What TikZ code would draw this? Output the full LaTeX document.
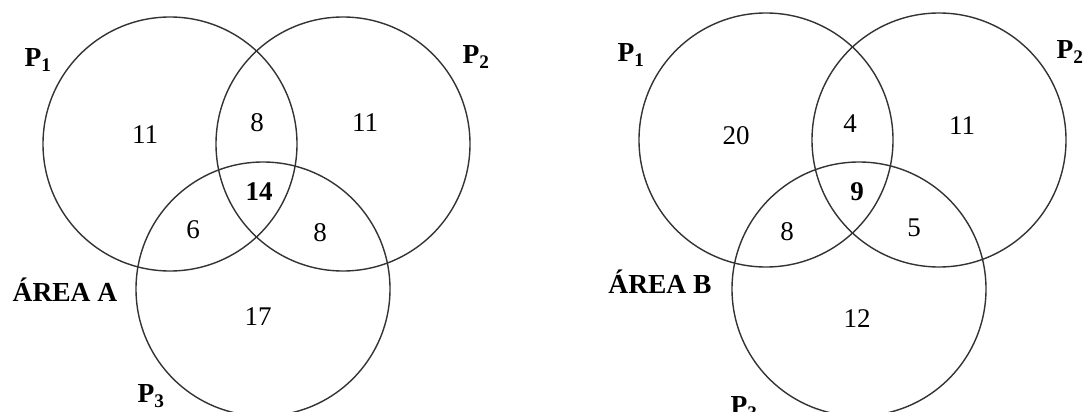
\documentclass[tikz,border=0pt]{standalone}
\usepackage{fontspec}
\setmainfont{Liberation Serif}
\usepackage{tikz}
\usetikzlibrary{positioning}
\tikzstyle{setcircle} = [draw=black!80, line width=1.4pt, circle, minimum size=254pt, inner sep=0pt]
\tikzstyle{countlabel} = [font=\fontsize{27}{32}\selectfont, inner sep=0pt]
\tikzstyle{boldcount} = [font=\fontsize{27}{32}\selectfont\bfseries, inner sep=0pt]
\tikzstyle{setname} = [font=\fontsize{27.5}{32}\selectfont\bfseries, inner sep=0pt]
\newcommand{\setlabel}[1]{P\textsubscript{#1}}

\begin{document}
\begin{tikzpicture}[x=1pt, y=-1pt]
    \useasboundingbox (0,0) rectangle (1084,412);
    % We start by placing the circles of area A
    \node [setcircle] (a1) at (170,144) {};
    \node [setcircle] (a2) at (343,144) {};
    \node [setcircle] (a3) at (263,289) {};
    \node [setname] (pa1) at (38,60) {\setlabel{1}};
    \node [setname] (pa2) at (476,57) {\setlabel{2}};
    \node [setname] (pa3) at (151,396) {\setlabel{3}};
    \node [setname] (areaa) at (65,290) {ÁREA A};

    % Then the numbers inside area A
    \node [countlabel] (a1only) at (145,135) {11};
    \node [countlabel] (a12) at (257,123) {8};
    \node [countlabel] (a2only) at (365,123) {11};
    \node [boldcount] (a123) at (259,192) {14};
    \node [countlabel] (a13) at (193,230) {6};
    \node [countlabel] (a23) at (320,233) {8};
    \node [countlabel] (a3only) at (258,317) {17};

    % Same thing for area B
    \node [setcircle] (b1) at (766,140) {};
    \node [setcircle] (b2) at (939,140) {};
    \node [setcircle] (b3) at (859,289) {};
    \node [setname] (pb1) at (631,55) {\setlabel{1}};
    \node [setname] (pb2) at (1070,52) {\setlabel{2}};
    \node [setname] (pb3) at (744,408) {\setlabel{3}};
    \node [setname] (areab) at (660,282) {ÁREA B};

    \node [countlabel] (b1only) at (736,136) {20};
    \node [countlabel] (b12) at (850,124) {4};
    \node [countlabel] (b2only) at (962,126) {11};
    \node [boldcount] (b123) at (857,192) {9};
    \node [countlabel] (b13) at (787,232) {8};
    \node [countlabel] (b23) at (914,228) {5};
    \node [countlabel] (b3only) at (857,319) {12};
\end{tikzpicture}
\end{document}
